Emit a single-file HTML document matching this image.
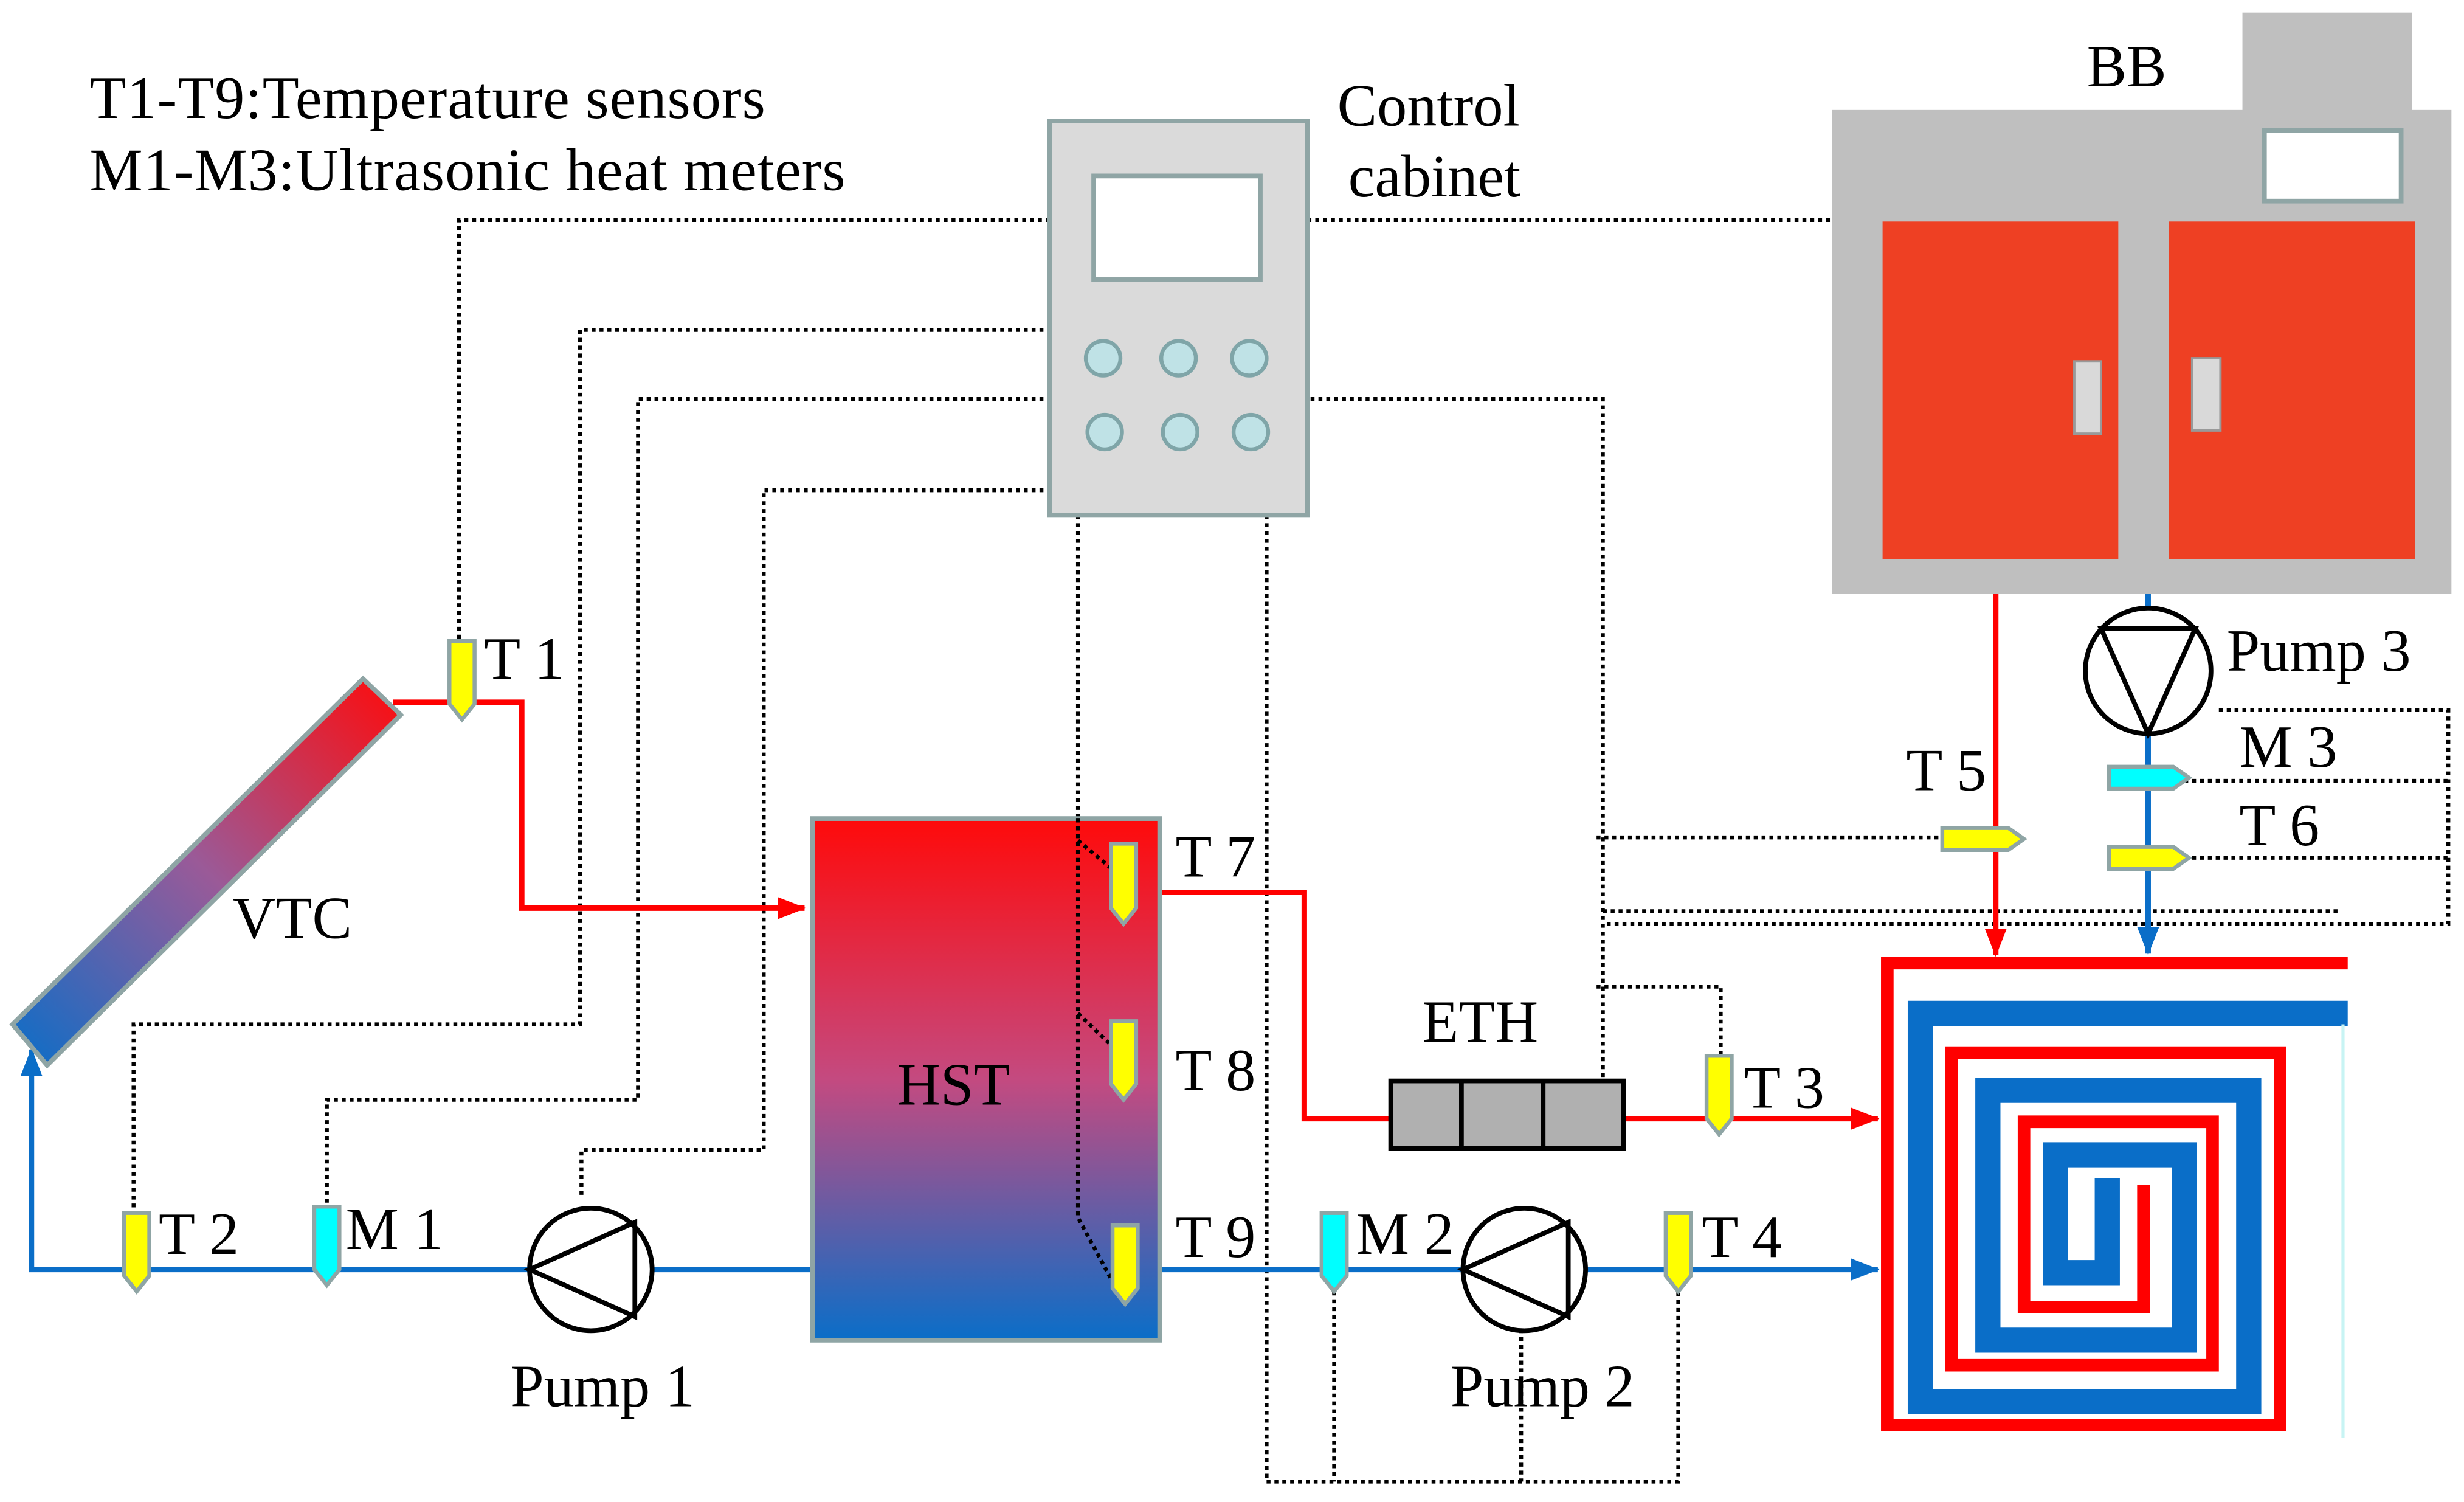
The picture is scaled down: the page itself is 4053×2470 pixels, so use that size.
<!DOCTYPE html>
<html><head><meta charset="utf-8"><style>html,body{margin:0;padding:0;background:#fff}svg{display:block}text{font-family:"Liberation Serif",serif;font-size:38px;fill:#000}</style></head>
<body>
<svg width="4053" height="2470" viewBox="0 0 1568 956" preserveAspectRatio="none" xmlns="http://www.w3.org/2000/svg">
<defs>
<linearGradient id="hst" x1="0" y1="0" x2="0" y2="1"><stop offset="0" stop-color="#ff0a0a"/><stop offset="0.5" stop-color="#c44a80"/><stop offset="1" stop-color="#0a6ec8"/></linearGradient>
<linearGradient id="vtc" x1="0" y1="1" x2="1" y2="0"><stop offset="0" stop-color="#0a6ec8"/><stop offset="0.5" stop-color="#9a5a98"/><stop offset="1" stop-color="#ff0a0a"/></linearGradient>
<marker id="ar2" markerWidth="18" markerHeight="14" refX="17" refY="7" orient="auto" markerUnits="userSpaceOnUse"><path d="M0,0 L18,7 L0,14z" fill="#f00"/></marker>
<marker id="ab2" markerWidth="18" markerHeight="14" refX="17" refY="7" orient="auto" markerUnits="userSpaceOnUse"><path d="M0,0 L18,7 L0,14z" fill="#0a6ec8"/></marker>
</defs>

<text x="57" y="75" textLength="430">T1-T9:Temperature sensors</text>
<text x="57" y="121" textLength="481">M1-M3:Ultrasonic heat meters</text>
<text x="851" y="80">Control</text>
<text x="858" y="125">cabinet</text>
<text x="1328" y="55">BB</text>

<!-- dotted control lines -->
<g fill="none" stroke="#000" stroke-width="2.5" stroke-dasharray="2.5 2.5">
<path d="M668 140 H292 V408"/>
<path d="M832 140 H1166"/>
<path d="M664 210 H369 V652 H85 V772"/>
<path d="M664 254 H406 V700 H208 V768"/>
<path d="M664 312 H486 V732 H370 V762"/>
<path d="M686 328 V521"/>
<path d="M806 328 V943 H1068 V820"/>
<path d="M849 822 V943 M968 846 V943"/>
<path d="M834 254 H1020 V688"/>
<path d="M1016 628 H1095 V672"/>
<path d="M1016 533 H1240"/>
<path d="M1020 580 H1490"/>
<path d="M1412 452 H1558 V588 H1020"/>
<path d="M1390 497 H1558 M1390 546 H1558"/>
</g>

<!-- control cabinet -->
<rect x="668" y="77" width="164" height="251" fill="#dadada" stroke="#8fa5a5" stroke-width="3"/>
<rect x="696" y="112" width="106" height="66" fill="#fff" stroke="#8fa5a5" stroke-width="3"/>
<g fill="#bfe2e6" stroke="#7fa5a8" stroke-width="2.5">
<circle cx="702" cy="228" r="11"/><circle cx="750" cy="228" r="11"/><circle cx="795" cy="228" r="11"/>
<circle cx="703" cy="275" r="11"/><circle cx="751" cy="275" r="11"/><circle cx="796" cy="275" r="11"/>
</g>

<!-- BB -->
<rect x="1427" y="8" width="108" height="64" fill="#bfbfbf"/>
<rect x="1166" y="70" width="394" height="308" fill="#bfbfbf"/>
<rect x="1441" y="83" width="87" height="45" fill="#fff" stroke="#8fa5a5" stroke-width="3"/>
<rect x="1198" y="141" width="150" height="215" fill="#ee4023"/>
<rect x="1380" y="141" width="157" height="215" fill="#ee4023"/>
<rect x="1320" y="230" width="17" height="46" fill="#d9d9d9" stroke="#999" stroke-width="1.5"/>
<rect x="1395" y="228" width="18" height="46" fill="#d9d9d9" stroke="#999" stroke-width="1.5"/>

<!-- pipes -->
<g fill="none" stroke-width="3.5">
<path d="M250 447 H332 V578 H512" stroke="#f00" marker-end="url(#ar2)"/>
<path d="M738 568 H830 V712 H885" stroke="#f00"/>
<path d="M1033 712 H1195" stroke="#f00" marker-end="url(#ar2)"/>
<path d="M1270 378 V608" stroke="#f00" marker-end="url(#ar2)"/>
<path d="M517 808 H20 V668" stroke="#0a6ec8" marker-end="url(#ab2)"/>
<path d="M738 808 H1195" stroke="#0a6ec8" marker-end="url(#ab2)"/>
<path d="M1367 378 V607" stroke="#0a6ec8" marker-end="url(#ab2)"/>
</g>

<!-- spiral -->
<g fill="none" stroke-linejoin="miter">
<path d="M1494 613 H1201 V907 H1451 V670 H1242 V869 H1408 V714 H1288 V832 H1364 V754" stroke="#f00" stroke-width="8"/>
<path d="M1494 645 H1222 V892 H1431 V694 H1265 V853 H1390 V735 H1308 V810 H1341 V750" stroke="#0a6ec8" stroke-width="16"/>
<path d="M1491 652 V915" stroke="#c8f4f4" stroke-width="2"/>
</g>

<!-- VTC -->
<polygon points="8,652 231,432 255,455 30,678" fill="url(#vtc)" stroke="#8fa5a5" stroke-width="3"/>
<text x="148" y="597">VTC</text>

<!-- HST -->
<rect x="517" y="521" width="221" height="332" fill="url(#hst)" stroke="#8fa5a5" stroke-width="3"/>
<text x="571" y="703">HST</text>
<path d="M686 521 V775 L713 825 M686 535 L710 555 M686 645 L710 668" fill="none" stroke="#000" stroke-width="2.5" stroke-dasharray="2.5 2.5"/>

<!-- ETH -->
<rect x="885" y="688" width="148" height="43" fill="#b0b0b0" stroke="#000" stroke-width="3"/>
<path d="M930 688 V731 M982 688 V731" stroke="#000" stroke-width="3"/>
<text x="905" y="663">ETH</text>

<!-- pumps -->
<g fill="#fff" stroke="#000" stroke-width="3">
<circle cx="376" cy="808" r="39"/><path d="M337 808 L404 778 V838 Z" fill="none"/>
<circle cx="970" cy="808" r="39"/><path d="M931 808 L998 778 V838 Z" fill="none"/>
<circle cx="1367" cy="427" r="40"/><path d="M1367 467 L1337 400 H1397 Z" fill="none"/>
</g>
<text x="325" y="895">Pump 1</text>
<text x="923" y="895">Pump 2</text>
<text x="1417" y="427">Pump 3</text>

<!-- sensors -->
<g stroke="#8fa5a5" stroke-width="2.5">
<path d="M286 408 H302 V448 L294 458 L286 448 Z" fill="#ff0"/>
<path d="M707 537 H723 V578 L715 588 L707 578 Z" fill="#ff0"/>
<path d="M707 650 H723 V690 L715 700 L707 690 Z" fill="#ff0"/>
<path d="M708 780 H724 V820 L716 830 L708 820 Z" fill="#ff0"/>
<path d="M79 772 H95 V812 L87 822 L79 812 Z" fill="#ff0"/>
<path d="M1086 672 H1102 V712 L1094 722 L1086 712 Z" fill="#ff0"/>
<path d="M1060 772 H1076 V812 L1068 822 L1060 812 Z" fill="#ff0"/>
<path d="M200 768 H216 V808 L208 818 L200 808 Z" fill="#0ff"/>
<path d="M841 772 H857 V812 L849 822 L841 812 Z" fill="#0ff"/>
<path d="M1236 527 H1278 L1288 534 L1278 541 H1236 Z" fill="#ff0"/>
<path d="M1342 488 H1383 L1393 495 L1383 502 H1342 Z" fill="#0ff"/>
<path d="M1342 539 H1383 L1393 546 L1383 553 H1342 Z" fill="#ff0"/>
</g>
<text x="308" y="432">T 1</text>
<text x="748" y="558">T 7</text>
<text x="748" y="694">T 8</text>
<text x="748" y="800">T 9</text>
<text x="101" y="798">T 2</text>
<text x="220" y="795">M 1</text>
<text x="863" y="798">M 2</text>
<text x="1083" y="800">T 4</text>
<text x="1110" y="705">T 3</text>
<text x="1213" y="503">T 5</text>
<text x="1425" y="488">M 3</text>
<text x="1425" y="538">T 6</text>
</svg>
</body></html>
